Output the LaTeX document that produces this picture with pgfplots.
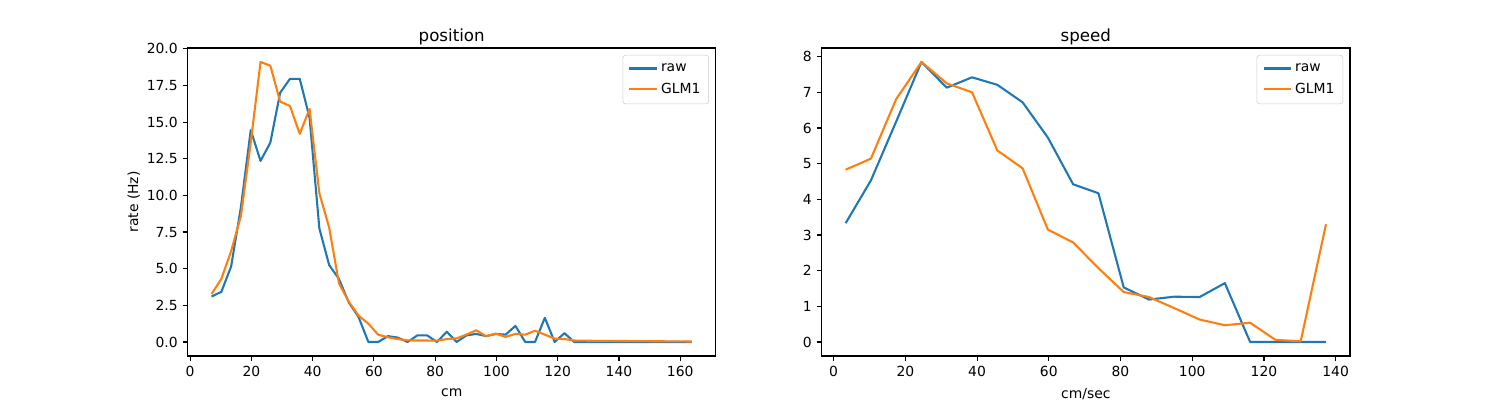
\documentclass[border=0pt]{standalone}
\usepackage{pgfplots}
\pgfplotsset{compat=1.18}
\usepackage{pgfplotstable}
\usepackage{fontspec}
\setmainfont{DejaVu Sans}
\definecolor{C0}{HTML}{1F77B4}
\definecolor{C1}{HTML}{FF7F0E}

\pgfplotstableread{
x raw glm
7.0 3.10 3.27
10.2 3.42 4.30
13.4 5.15 6.20
16.6 9.20 8.60
19.8 14.45 13.6
23.0 12.35 19.10
26.2 13.60 18.85
29.4 17.00 16.40
32.6 17.95 16.10
35.8 17.95 14.20
39.0 15.30 15.90
42.2 7.75 10.15
45.4 5.25 7.80
48.6 4.30 4.00
51.8 2.70 2.75
55.0 1.70 1.80
58.2 0.00 1.25
61.4 0.00 0.50
64.6 0.40 0.32
67.8 0.30 0.20
71.0 0.00 0.11
74.2 0.45 0.10
77.4 0.45 0.10
80.6 0.00 0.09
83.8 0.70 0.20
87.0 0.00 0.25
90.2 0.45 0.50
93.4 0.55 0.80
96.6 0.40 0.40
99.8 0.55 0.57
103.0 0.50 0.35
106.2 1.10 0.55
109.4 0.00 0.50
112.6 0.00 0.77
115.8 1.65 0.50
119.0 0.00 0.23
122.2 0.60 0.20
125.4 0.00 0.10
128.6 0.00 0.09
131.8 0.00 0.08
135.0 0.00 0.08
138.2 0.00 0.07
141.4 0.00 0.07
144.6 0.00 0.06
147.8 0.00 0.06
151.0 0.00 0.05
154.2 0.00 0.05
157.4 0.00 0.04
160.6 0.00 0.04
163.8 0.00 0.03
}\postab

\pgfplotstableread{
x raw glm
3.35 3.33 4.83
10.40 4.53 5.14
17.45 6.18 6.81
24.50 7.85 7.85
31.55 7.13 7.25
38.60 7.42 7.00
45.65 7.21 5.37
52.70 6.72 4.87
59.75 5.73 3.15
66.80 4.42 2.79
73.85 4.17 2.07
80.90 1.53 1.40
87.95 1.19 1.26
95.00 1.27 0.95
102.05 1.26 0.63
109.10 1.65 0.47
116.15 0.00 0.54
123.20 0.00 0.06
130.25 0.00 0.02
137.30 0.00 3.30
}\spdtab

\pgfplotsset{
  mpl/.style={
    scale only axis,
    width=380.45pt, height=221.76pt,
    axis line style={line width=0.8pt},
    tick align=outside,
    tick pos=left,
    major tick length=3.5pt,
    tick style={line width=0.8pt, black},
    /pgf/number format/assume math mode=true,
    ticklabel style={font=\fontsize{10}{12}\selectfont},
    label style={font=\fontsize{10}{12}\selectfont},
    ylabel style={yshift=-2pt},
    xlabel style={yshift=-2pt},
    title style={font=\fontsize{12}{14.4}\selectfont, at={(0.5,1)}, anchor=base, yshift=-1.5pt},
    legend cell align=left,
    legend style={at={(1,1)}, anchor=north east, xshift=-5pt, yshift=-5pt,
      draw=black!20, rounded corners=2pt, fill=white, fill opacity=0.8, text opacity=1,
      font=\fontsize{10}{12}\selectfont, inner xsep=4pt, inner ysep=4pt,
      row sep=3pt},
    legend image code/.code={\draw[#1, line width=1.5pt] (0pt,0pt) -- (20pt,0pt);},
    every axis plot/.append style={line width=1.5pt, line join=round},
  }
}

\begin{document}
\begin{tikzpicture}
\path[use as bounding box] (0,0) rectangle (1080pt,288pt);
\begin{axis}[mpl,
  at={(135pt,31.68pt)}, anchor=south west,
  xmin=-0.84, xmax=171.64, ymin=-0.955, ymax=20.055,
  xtick={0,20,...,160},
  ytick={0,2.5,...,20},
  yticklabel style={/pgf/number format/.cd, fixed, fixed zerofill, precision=1},
  title={position},
  xlabel={cm}, ylabel={rate (Hz)},
]
\addplot[C0] table[x=x, y=raw] {\postab};
\addlegendentry{raw}
\addplot[C1] table[x=x, y=glm] {\postab};
\addlegendentry{GLM1}
\end{axis}
\begin{axis}[mpl,
  at={(591.55pt,31.68pt)}, anchor=south west,
  xmin=-3.35, xmax=144.0, ymin=-0.3925, ymax=8.2425,
  xtick={0,20,...,140},
  ytick={0,1,...,8},
  title={speed},
  xlabel={cm/sec},
]
\addplot[C0] table[x=x, y=raw] {\spdtab};
\addlegendentry{raw}
\addplot[C1] table[x=x, y=glm] {\spdtab};
\addlegendentry{GLM1}
\end{axis}
\end{tikzpicture}
\end{document}
